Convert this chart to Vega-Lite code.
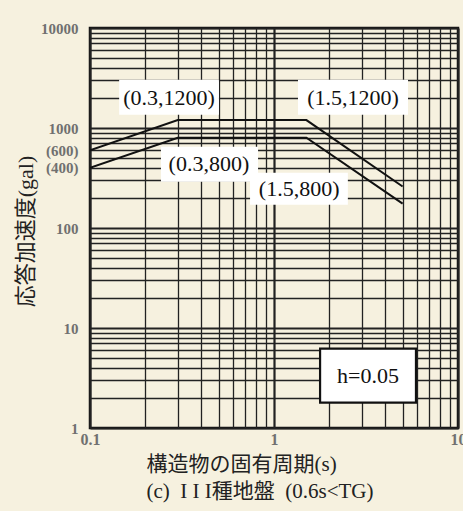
{
  "$schema": "https://vega.github.io/schema/vega-lite/v6.json",
  "autosize": "none",
  "width": 368,
  "height": 400,
  "padding": {"left": 90, "top": 28, "right": 5, "bottom": 83},
  "background": "#f6f1df",
  "view": {"stroke": "#111111", "strokeWidth": 2.5, "fill": "#f6f1df"},
  "datasets": {
    "curves": [
      {"T": 0.1, "A": 600, "s": "upper"},
      {"T": 0.3, "A": 1200, "s": "upper"},
      {"T": 1.5, "A": 1200, "s": "upper"},
      {"T": 5, "A": 260, "s": "upper"},
      {"T": 0.1, "A": 400, "s": "lower"},
      {"T": 0.3, "A": 800, "s": "lower"},
      {"T": 1.5, "A": 800, "s": "lower"},
      {"T": 5, "A": 175, "s": "lower"}
    ],
    "notes": [
      {"text": "(0.3,1200)", "kind": "point", "tx": 0.269, "ty": 2009, "x1": 0.144, "x2": 0.502, "y1": 3041, "y2": 1358},
      {"text": "(1.5,1200)", "kind": "point", "tx": 2.69, "ty": 2009, "x1": 1.35, "x2": 5.35, "y1": 3041, "y2": 1358},
      {"text": "(0.3,800)", "kind": "point", "tx": 0.443, "ty": 440, "x1": 0.243, "x2": 0.819, "y1": 650, "y2": 290},
      {"text": "(1.5,800)", "kind": "point", "tx": 1.37, "ty": 247, "x1": 0.741, "x2": 2.52, "y1": 357, "y2": 171},
      {"text": "h=0.05", "kind": "param", "tx": 3.24, "ty": 3.32, "x1": 1.78, "x2": 5.91, "y1": 6.21, "y2": 1.79}
    ]
  },
  "layer": [
    {
      "data": {"name": "curves"},
      "mark": {"type": "line", "color": "#111111", "strokeWidth": 2, "clip": true},
      "encoding": {
        "x": {
          "field": "T", "type": "quantitative",
          "scale": {"type": "log", "domain": [0.1, 10], "nice": false},
          "axis": {
            "values": [0.1, 0.2, 0.3, 0.4, 0.5, 0.6, 0.7, 0.8, 0.9, 1, 2, 3, 4, 5, 6, 7, 8, 9, 10],
            "labelExpr": "indexof([0.1, 1, 10], datum.value) >= 0 ? '' + datum.value : ''",
            "grid": true,
            "gridColor": "#222222",
            "gridWidth": {"condition": {"test": "indexof([0.1, 1, 10], datum.value) >= 0", "value": 2.2}, "value": 1.3},
            "domain": false,
            "ticks": false,
            "labelFlush": false,
            "labelOverlap": false,
            "labelPadding": 3,
            "labelFont": "Liberation Serif",
            "labelFontSize": 16,
            "labelFontWeight": "bold",
            "labelColor": "#707070",
            "title": ["構造物の固有周期(s)", "(c)\u00a0\u00a0I\u00a0I\u00a0I種地盤\u00a0\u00a0(0.6s<TG)"],
            "titleFont": "Liberation Serif, Noto Sans CJK JP",
            "titleFontSize": 21,
            "titleFontWeight": "normal",
            "titleColor": "#222222",
            "titleAlign": "left",
            "titleAnchor": "start",
            "titleX": 56,
            "titleY": 25,
            "titleBaseline": "top",
            "titleLineHeight": 27
          }
        },
        "y": {
          "field": "A", "type": "quantitative",
          "scale": {"type": "log", "domain": [1, 10000], "nice": false},
          "axis": {
            "values": [1, 2, 3, 4, 5, 6, 7, 8, 9, 10, 20, 30, 40, 50, 60, 70, 80, 90, 100, 200, 300, 400, 500, 600, 700, 800, 900, 1000, 2000, 3000, 4000, 5000, 6000, 7000, 8000, 9000, 10000],
            "labelExpr": "datum.value == 600 ? '(600)' : datum.value == 400 ? '(400)' : (indexof([1, 10, 100, 1000, 10000], datum.value) >= 0 ? '' + datum.value : '')",
            "grid": true,
            "gridColor": "#222222",
            "gridWidth": {"condition": {"test": "indexof([1, 10, 100, 1000, 10000], datum.value) >= 0", "value": 2.2}, "value": 1.3},
            "domain": false,
            "ticks": false,
            "labelFlush": false,
            "labelOverlap": false,
            "labelPadding": 12,
            "labelFont": "Liberation Serif",
            "labelFontSize": 15,
            "labelFontWeight": "bold",
            "labelColor": "#707070",
            "title": "応答加速度(gal)",
            "titleFont": "Liberation Serif, Noto Sans CJK JP",
            "titleFontSize": 22,
            "titleFontWeight": "normal",
            "titleColor": "#222222",
            "titleAngle": -90,
            "titleBaseline": "middle",
            "titleX": -65,
            "titleY": 203
          }
        },
        "detail": {"field": "s"}
      }
    },
    {
      "data": {"name": "notes"},
      "transform": [{"filter": "datum.kind == 'point'"}],
      "mark": {"type": "rect", "fill": "#ffffff", "stroke": null},
      "encoding": {
        "x": {"field": "x1", "type": "quantitative"},
        "x2": {"field": "x2"},
        "y": {"field": "y1", "type": "quantitative"},
        "y2": {"field": "y2"}
      }
    },
    {
      "data": {"name": "notes"},
      "transform": [{"filter": "datum.kind == 'param'"}],
      "mark": {"type": "rect", "fill": "#ffffff", "stroke": "#111111", "strokeWidth": 2.2},
      "encoding": {
        "x": {"field": "x1", "type": "quantitative"},
        "x2": {"field": "x2"},
        "y": {"field": "y1", "type": "quantitative"},
        "y2": {"field": "y2"}
      }
    },
    {
      "data": {"name": "notes"},
      "mark": {"type": "text", "font": "Liberation Serif", "fontSize": 22, "color": "#111111", "align": "center", "baseline": "middle"},
      "encoding": {
        "x": {"field": "tx", "type": "quantitative"},
        "y": {"field": "ty", "type": "quantitative"},
        "text": {"field": "text"}
      }
    }
  ]
}
